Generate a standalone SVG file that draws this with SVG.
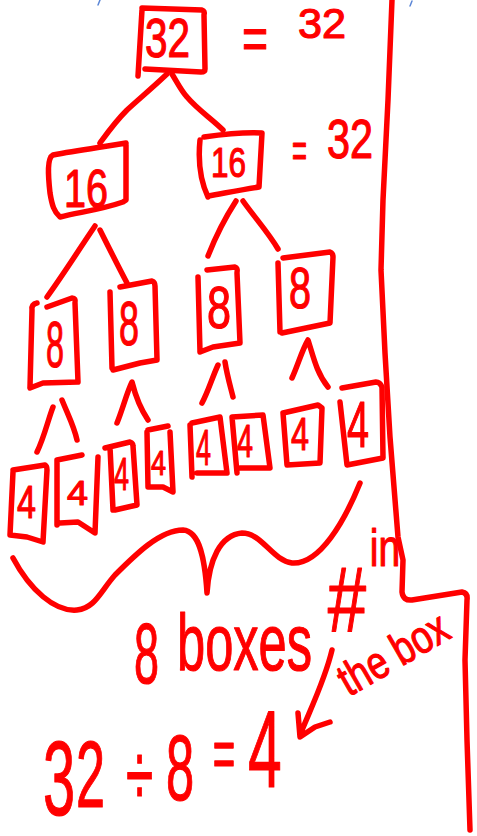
<svg xmlns="http://www.w3.org/2000/svg" width="477" height="836" viewBox="0 0 477 836">
<style>
.s{fill:none;stroke:#ff0000;stroke-width:5.5;stroke-linecap:round;stroke-linejoin:round}
.t{fill:#ff0000;stroke:#ff0000;stroke-width:1.2;stroke-linejoin:round;font-family:"Liberation Sans",Arial,sans-serif;font-weight:normal}
.b{fill:none;stroke:#5b86d6;stroke-width:1.5;stroke-linecap:round}
</style>
<rect width="477" height="836" fill="#ffffff"/>
<g id="marks"><path class="b" d="M98,5 L100,0"/><path class="b" d="M410,6 L412,1"/></g>
<g id="divider"><path class="s" d="M392,0 L388,100 L383,200 L381,270 L385,353 L390,437 L398,537 L403,560 L402,592 Q403,601 412,600 L462,592 Q468,593 467,600 L465,660 L467,740 L470,830"/></g>
<g id="connectors">
<path class="s" d="M167,74 C150,90 140,98 127,110 C115,122 108,132 100,143"/>
<path class="s" d="M172,74 C178,84 182,92 187,97 C198,110 212,119 223,130"/>
<path class="s" d="M95,226 C80,248 65,272 47,297"/>
<path class="s" d="M100,230 C110,250 118,266 127,283"/>
<path class="s" d="M236,201 C225,218 215,238 208,256"/>
<path class="s" d="M243,201 C255,218 268,232 278,249"/>
<path class="s" d="M37,452 C44,438 48,420 53,407"/>
<path class="s" d="M62,400 C68,415 74,426 77,440"/>
<path class="s" d="M117,423 C123,408 127,392 132,382 C136,398 140,408 148,420"/>
<path class="s" d="M202,403 C208,392 212,378 218,365"/>
<path class="s" d="M225,362 C227,375 230,385 233,397"/>
<path class="s" d="M292,378 C298,365 302,350 308,340 C313,355 316,372 328,387"/>
</g>
<g id="n32"><path class="s" d="M138,76 L142,10 M142,8 L202,10 Q205,11 204,15 L205,69 Q205,72 201,72 L145,69"/><text class="t" x="145" y="57" font-size="56" textLength="45" lengthAdjust="spacingAndGlyphs">32</text></g>
<g id="eq1"><text class="t" x="242" y="59" font-size="60" textLength="26" lengthAdjust="spacingAndGlyphs">=</text><text class="t" x="298" y="38" font-size="42" textLength="48" lengthAdjust="spacingAndGlyphs">32</text></g>
<g id="n16a"><path class="s" d="M126,143 C110,146 80,150 53,155 C47,158 48,175 50,193 C52,205 54,212 60,217 C80,212 100,210 123,202 L126,200 L126,145"/><text class="t" x="64" y="207" font-size="54" textLength="44" lengthAdjust="spacingAndGlyphs">16</text></g>
<g id="n16b"><path class="s" d="M200,140 C198,160 200,180 208,197 M204,137 C225,134 245,132 262,133 L259,187 C240,190 225,193 208,196"/><text class="t" x="211" y="177" font-size="42" textLength="35" lengthAdjust="spacingAndGlyphs">16</text></g>
<g id="eq2"><text class="t" x="292" y="167" font-size="50" textLength="15" lengthAdjust="spacingAndGlyphs">=</text><text class="t" x="327" y="158" font-size="55" textLength="46" lengthAdjust="spacingAndGlyphs">32</text></g>
<g id="n8a"><path class="s" d="M37,303 Q31,304 32,310 L30,387 M47,307 L72,298 Q76,298 75,303 L78,382 L43,383 L30,388"/><text class="t" x="46" y="367" font-size="65" textLength="18" lengthAdjust="spacingAndGlyphs">8</text></g>
<g id="n8b"><path class="s" d="M110,292 L112,368 M120,287 L152,281 Q155,282 155,286 L157,360 L140,363 L113,370"/><text class="t" x="119" y="345" font-size="63" textLength="20" lengthAdjust="spacingAndGlyphs">8</text></g>
<g id="n8c"><path class="s" d="M198,277 L200,352 M207,270 L235,267 Q238,268 237,273 L240,343 L213,347 L200,352"/><text class="t" x="207" y="328" font-size="60" textLength="24" lengthAdjust="spacingAndGlyphs">8</text></g>
<g id="n8d"><path class="s" d="M278,263 L280,332 M283,258 L330,252 Q333,253 333,257 L330,323 L282,333"/><text class="t" x="289" y="308" font-size="57" textLength="22" lengthAdjust="spacingAndGlyphs">8</text></g>
<g id="n4a"><path class="s" d="M13,472 L10,535 M13,470 L45,465 Q47,466 47,470 L43,542 L27,537 L10,535"/><text class="t" x="17" y="518" font-size="46" textLength="19" lengthAdjust="spacingAndGlyphs">4</text></g>
<g id="n4b"><path class="s" d="M57,460 L57,525 M57,460 L82,455 M98,457 L95,533 L78,522 L60,523"/><text class="t" x="67" y="505" font-size="35" textLength="21" lengthAdjust="spacingAndGlyphs">4</text></g>
<g id="n4c"><path class="s" d="M110,447 L113,510 M105,448 L130,442 Q133,443 133,446 L137,505 L115,510"/><text class="t" x="114" y="490" font-size="46" textLength="15" lengthAdjust="spacingAndGlyphs">4</text></g>
<g id="n4d"><path class="s" d="M147,432 L148,487 L163,487 L173,492 L170,432 M148,430 L168,426"/><text class="t" x="151" y="475" font-size="35" textLength="15" lengthAdjust="spacingAndGlyphs">4</text></g>
<g id="n4e"><path class="s" d="M190,425 L192,477 M192,423 L220,417 L227,473 L197,473"/><text class="t" x="196" y="465" font-size="50" textLength="15" lengthAdjust="spacingAndGlyphs">4</text></g>
<g id="n4f"><path class="s" d="M232,417 L237,473 M232,417 L263,415 L270,468 L240,468"/><text class="t" x="237" y="457" font-size="47" textLength="16" lengthAdjust="spacingAndGlyphs">4</text></g>
<g id="n4g"><path class="s" d="M283,413 L287,465 L320,463 L322,408 L318,405 L283,413"/><text class="t" x="291" y="450" font-size="46" textLength="18" lengthAdjust="spacingAndGlyphs">4</text></g>
<g id="n4h"><path class="s" d="M340,402 L347,465 L383,458 L382,387 Q380,382 376,382 L342,388"/><text class="t" x="347" y="447" font-size="64" textLength="22" lengthAdjust="spacingAndGlyphs">4</text></g>
<g id="brace"><path class="s" d="M13,558 C30,590 55,612 77,610 C95,608 100,592 115,575 C135,555 160,530 183,530 C200,531 205,560 207,593 C209,560 220,535 242,533 C262,533 272,560 292,563 C320,565 345,520 360,483"/></g>
<g id="label-boxes"><text class="t" x="134" y="683" font-size="85" textLength="25" lengthAdjust="spacingAndGlyphs">8</text><text class="t" x="177" y="670" font-size="80" textLength="135" lengthAdjust="spacingAndGlyphs">boxes</text></g>
<g id="label-in-the-box"><text class="t" transform="scale(0.75 1)"><tspan x="437" y="632" font-size="92">#</tspan><tspan x="493" y="566" font-size="52">in</tspan></text><text class="t" x="349" y="697" font-size="46" textLength="120" lengthAdjust="spacingAndGlyphs" transform="rotate(-30 349 697)">the box</text></g>
<g id="arrow"><path class="s" d="M332,650 C325,680 310,710 300,735 M298,713 L300,737 L315,727 L330,722"/></g>
<g id="equation"><text class="t" transform="scale(0.55 1)"><tspan x="78" y="815" font-size="105">3</tspan><tspan x="138" y="807" font-size="95">2</tspan><tspan x="229" y="806" font-size="90">÷</tspan><tspan x="302" y="800" font-size="92">8</tspan><tspan x="387" y="778" font-size="70">=</tspan><tspan x="451" y="787" font-size="110">4</tspan></text></g>
</svg>
